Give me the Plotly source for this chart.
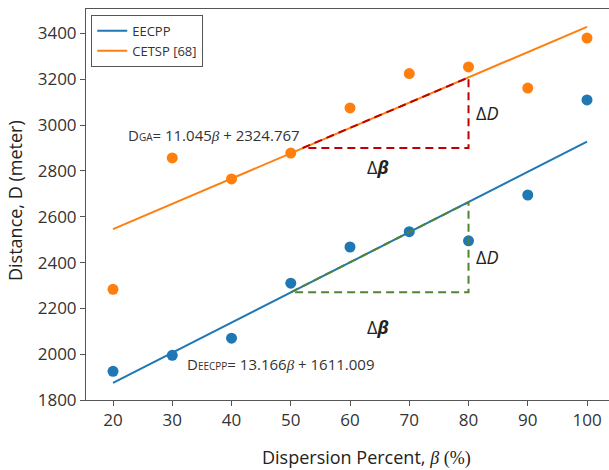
import plotly.graph_objects as go

# ---- data ----
beta = [20, 30, 40, 50, 60, 70, 80, 90, 100]
eecpp = [1925, 1995, 2070, 2310, 2468, 2535, 2495, 2695, 3110]
cetsp = [2283, 2857, 2765, 2878, 3075, 3225, 3254, 3162, 3380]

# linear-fit coefficients printed on the chart
eecpp_slope, eecpp_icpt = 13.166, 1611.009
cetsp_slope, cetsp_icpt = 11.045, 2324.767
fit_x = [20, 100]

# slope triangles
red_tri_x = [52, 80, 80, 52]
red_tri_y = [2900, 3208, 2900, 2900]
green_tri_x = [50, 80, 80, 50]
green_tri_y = [2270, 2664, 2270, 2270]

x_ticks = [20, 30, 40, 50, 60, 70, 80, 90, 100]
y_ticks = [1800, 2000, 2200, 2400, 2600, 2800, 3000, 3200, 3400]

BLUE = "#1f77b4"
ORANGE = "#ff7f0e"
RED = "#c00000"
GREEN = "#548235"
FONT = "Open Sans"

fig = go.Figure()

fig.add_trace(go.Scatter(x=fit_x, y=[eecpp_slope * v + eecpp_icpt for v in fit_x],
                         mode="lines", line=dict(color=BLUE, width=2), name="EECPP"))
fig.add_trace(go.Scatter(x=fit_x, y=[cetsp_slope * v + cetsp_icpt for v in fit_x],
                         mode="lines", line=dict(color=ORANGE, width=2), name="CETSP [68]"))
fig.add_trace(go.Scatter(x=beta, y=cetsp, mode="markers",
                         marker=dict(color=ORANGE, size=11), showlegend=False))
fig.add_trace(go.Scatter(x=beta, y=eecpp, mode="markers",
                         marker=dict(color=BLUE, size=11), showlegend=False))
fig.add_trace(go.Scatter(x=red_tri_x, y=red_tri_y, mode="lines",
                         line=dict(color=RED, width=2, dash="8px,5px"), showlegend=False))
fig.add_trace(go.Scatter(x=green_tri_x, y=green_tri_y, mode="lines",
                         line=dict(color=GREEN, width=2, dash="8px,5px"), showlegend=False))

ann_font = dict(family=FONT, size=18, color="#222")
serif = "font-family:'Liberation Serif'"
beta_i = "<i><span style=\"" + serif + "\">β</span></i>"
anns = [
    dict(x=80.9, y=3053, text="Δ<i>D</i>", xanchor="left"),
    dict(x=64.7, y=2817, text="Δ<b><i>β</i></b>", xanchor="center"),
    dict(x=80.9, y=2424, text="Δ<i>D</i>", xanchor="left"),
    dict(x=64.7, y=2119, text="Δ<b><i>β</i></b>", xanchor="center"),
]
for a in anns:
    fig.add_annotation(x=a["x"], y=a["y"], text=a["text"], xanchor=a["xanchor"],
                       yanchor="middle", showarrow=False, font=ann_font)

eq_font = dict(family=FONT, size=15, color="#333")
fig.add_annotation(x=22.2, y=2957, xanchor="left", yanchor="middle", showarrow=False,
                   font=eq_font,
                   text="D<span style=\"font-size:10px\">GA</span>= 11.045" + beta_i + " + 2324.767")
fig.add_annotation(x=32.1, y=1957, xanchor="left", yanchor="middle", showarrow=False,
                   font=eq_font,
                   text="D<span style=\"font-size:10px\">EECPP</span>= 13.166" + beta_i + " + 1611.009")

# axis titles as paper-positioned annotations
title_font = dict(family=FONT, size=18, color="#222")
fig.add_annotation(x=366, y=457, xref="paper", yref="paper", showarrow=False,
                   font=title_font, xanchor="center", yanchor="middle",
                   text="Dispersion Percent, " + beta_i + " <span style=\"" + serif + "\">(%)</span>")
fig.add_annotation(x=15, y=201, xref="paper", yref="paper", showarrow=False,
                   font=title_font, xanchor="center", yanchor="middle", textangle=-90,
                   text="Distance, D (meter)")

# convert pixel positions of the two title annotations to paper coordinates
W, H = 609, 470
L, R, T, B = 86, 0, 9, 70
pw, ph = W - L - R, H - T - B
for ann in fig.layout.annotations[-2:]:
    ann.x = (ann.x - L) / pw
    ann.y = (H - B - ann.y) / ph

fig.update_layout(
    width=W, height=H,
    margin=dict(l=L, r=R, t=T, b=B),
    paper_bgcolor="white", plot_bgcolor="white",
    font=dict(family=FONT, size=16, color="#333"),
    legend=dict(x=0.01, y=0.985, xanchor="left", yanchor="top",
                bordercolor="#555", borderwidth=1, bgcolor="white",
                font=dict(family=FONT, size=13, color="#333"),
                tracegroupgap=0, itemwidth=30),
)
fig.update_xaxes(range=[15.44, 103.71], tickvals=x_ticks, showgrid=False, zeroline=False,
                 showline=True, linecolor="#555", linewidth=1, mirror=True,
                 ticks="outside", ticklen=5, tickcolor="#555",
                 tickfont=dict(family=FONT, size=17, color="#333"))
fig.update_yaxes(range=[1800, 3507], tickvals=y_ticks, showgrid=False, zeroline=False,
                 showline=True, linecolor="#555", linewidth=1, mirror=True,
                 ticks="outside", ticklen=5, tickcolor="#555",
                 tickfont=dict(family=FONT, size=17, color="#333"))

fig.write_html("out.html")
